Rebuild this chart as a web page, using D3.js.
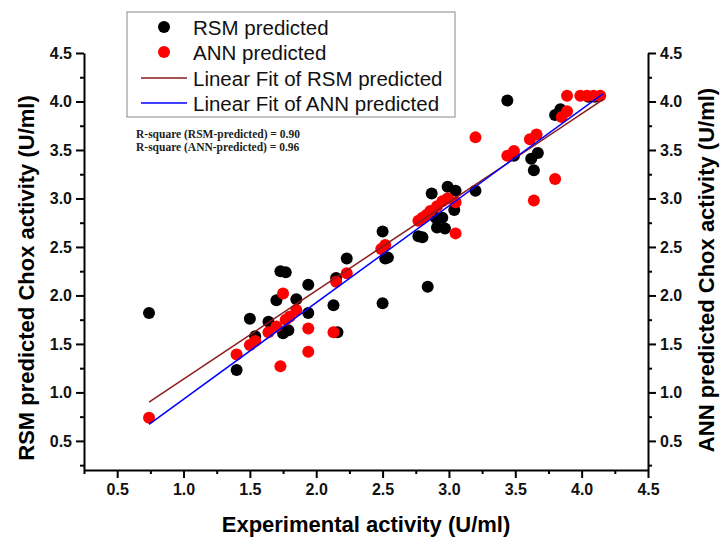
<!DOCTYPE html>
<html><head><meta charset="utf-8">
<script src="https://cdn.jsdelivr.net/npm/d3@7"></script>
<style>body{margin:0;background:#fff}svg{display:block}</style>
</head><body>
<svg id="c" width="721" height="537"></svg>
<script>
const rsmX = [0.74,1.40,1.50,1.54,1.64,1.70,1.73,1.77,1.75,1.79,1.85,1.94,1.94,2.13,2.15,2.16,2.23,2.50,2.50,2.52,2.54,2.77,2.80,2.84,2.87,2.90,2.95,2.91,2.97,2.99,3.04,3.05,3.20,3.44,3.49,3.62,3.64,3.67,3.80,3.84,4.05,4.10];
const rsmY = [1.82,1.23,1.76,1.58,1.73,1.95,2.25,2.24,1.61,1.64,1.96,2.11,1.82,1.90,2.18,1.62,2.38,1.92,2.66,2.38,2.39,2.61,2.60,2.09,3.05,2.80,2.80,2.70,2.69,3.12,2.88,3.08,3.08,4.01,3.44,3.41,3.29,3.47,3.86,3.92,4.05,4.05];
const annX = [0.74,1.40,1.50,1.54,1.64,1.70,1.73,1.75,1.77,1.80,1.85,1.94,1.94,2.13,2.15,2.23,2.49,2.52,2.77,2.80,2.83,2.86,2.91,2.95,2.99,3.05,3.05,3.20,3.44,3.49,3.61,3.66,3.64,3.80,3.85,3.89,3.89,3.99,4.04,4.09,4.14];
const annY = [0.74,1.39,1.49,1.53,1.62,1.68,1.27,2.02,1.75,1.78,1.85,1.66,1.42,1.62,2.14,2.23,2.48,2.52,2.77,2.80,2.83,2.87,2.92,2.97,3.00,2.96,2.64,3.63,3.44,3.49,3.61,3.66,2.98,3.20,3.84,3.90,4.06,4.06,4.06,4.06,4.06];
const fitRSM = [0.225, 0.912];   // intercept, slope
const fitANN = [-0.068, 0.997];
const fitRange = [0.74, 4.16];
const xTicks = [0.5,1.0,1.5,2.0,2.5,3.0,3.5,4.0,4.5];
const yTicks = [0.5,1.0,1.5,2.0,2.5,3.0,3.5,4.0,4.5];
const legendLabels = ["RSM predicted","ANN predicted","Linear Fit of RSM predicted","Linear Fit of ANN predicted"];
const rsqLabels = ["R-square (RSM-predicted) = 0.90","R-square (ANN-predicted) = 0.96"];

const svg = d3.select("#c");
const x = d3.scaleLinear().domain([0.25,4.5]).range([84,648]);
const y = d3.scaleLinear().domain([0.2,4.5]).range([470,53]);
const minorX = d3.range(0.25,4.5,0.5);
const minorY = d3.range(0.25,4.5,0.5).filter(v=>v>=0.2);
const font = "'Liberation Sans', Arial, sans-serif";

function styleAxis(g){
  g.select(".domain").attr("stroke","#000").attr("stroke-width",2);
  g.selectAll(".tick line").attr("stroke","#000").attr("stroke-width",2);
  g.selectAll(".tick text").attr("font-family",font).attr("font-weight","bold").attr("font-size",16).attr("fill","#111");
}
function minor(g, axisGen){ g.call(axisGen); g.select(".domain").remove(); g.selectAll("text").remove(); g.selectAll("line").attr("stroke","#000").attr("stroke-width",2); }

const gx = svg.append("g").attr("transform","translate(0,470)");
gx.append("g").call(g=>minor(g, d3.axisBottom(x).tickValues(minorX).tickSize(4)));
gx.append("g").call(d3.axisBottom(x).tickValues(xTicks).tickFormat(d3.format(".1f")).tickSize(8).tickSizeOuter(0).tickPadding(6)).call(styleAxis);

const gy = svg.append("g").attr("transform","translate(84,0)");
gy.append("g").call(g=>minor(g, d3.axisLeft(y).tickValues(minorY).tickSize(4)));
gy.append("g").call(d3.axisLeft(y).tickValues(yTicks).tickFormat(d3.format(".1f")).tickSize(8).tickSizeOuter(0).tickPadding(4)).call(styleAxis);

const gy2 = svg.append("g").attr("transform","translate(648,0)");
gy2.append("g").call(g=>minor(g, d3.axisRight(y).tickValues(minorY).tickSize(4)));
gy2.append("g").call(d3.axisRight(y).tickValues(yTicks).tickFormat(d3.format(".1f")).tickSize(8).tickSizeOuter(0).tickPadding(4)).call(styleAxis);

// axis titles
svg.append("text").attr("x",366).attr("y",532).attr("text-anchor","middle")
  .attr("font-family",font).attr("font-weight","bold").attr("font-size",22).text("Experimental activity (U/ml)");
svg.append("text").attr("transform","translate(34,278) rotate(-90)").attr("text-anchor","middle")
  .attr("font-family",font).attr("font-weight","bold").attr("font-size",22).text("RSM predicted Chox activity (U/ml)");
svg.append("text").attr("transform","translate(714,270) rotate(-90)").attr("text-anchor","middle")
  .attr("font-family",font).attr("font-weight","bold").attr("font-size",22).text("ANN predicted Chox activity (U/ml)");

// points
const rsm = rsmX.map((v,i)=>[v,rsmY[i]]);
const ann = annX.map((v,i)=>[v,annY[i]]);
svg.append("g").selectAll("circle").data(rsm).join("circle")
  .attr("cx",d=>x(d[0])).attr("cy",d=>y(d[1])).attr("r",6).attr("fill","#000");
svg.append("g").selectAll("circle").data(ann).join("circle")
  .attr("cx",d=>x(d[0])).attr("cy",d=>y(d[1])).attr("r",6).attr("fill","#ff0000");

// fit lines
const line = d3.line().x(d=>x(d[0])).y(d=>y(d[1]));
function fitPts(f){ return fitRange.map(v=>[v, f[0]+f[1]*v]); }
svg.append("path").attr("d",line(fitPts(fitRSM))).attr("stroke","#8b1a1a").attr("stroke-width",1.5).attr("fill","none");
svg.append("path").attr("d",line(fitPts(fitANN))).attr("stroke","#0000ff").attr("stroke-width",1.5).attr("fill","none");

// legend
const lg = svg.append("g");
lg.append("rect").attr("x",127).attr("y",12).attr("width",328).attr("height",105).attr("fill","#fff").attr("stroke","#888").attr("stroke-width",1);
const rows = [27,52,78,103];
lg.append("circle").attr("cx",164).attr("cy",rows[0]).attr("r",6).attr("fill","#000");
lg.append("circle").attr("cx",164).attr("cy",rows[1]).attr("r",6).attr("fill","#ff0000");
lg.append("line").attr("x1",141).attr("x2",187).attr("y1",rows[2]).attr("y2",rows[2]).attr("stroke","#8b1a1a").attr("stroke-width",1.5);
lg.append("line").attr("x1",141).attr("x2",187).attr("y1",rows[3]).attr("y2",rows[3]).attr("stroke","#0000ff").attr("stroke-width",1.5);
legendLabels.forEach((t,i)=>{
  lg.append("text").attr("x",193).attr("y",rows[i]+7.5).attr("font-family",font).attr("font-size",20.5).attr("fill","#111").text(t);
});
rsqLabels.forEach((t,i)=>{
  svg.append("text").attr("x",136).attr("y",138+i*12.5).attr("font-family","'Liberation Serif','Times New Roman',serif")
    .attr("font-weight","bold").attr("font-size",11.5).attr("fill","#222").text(t);
});
</script>
</body></html>
